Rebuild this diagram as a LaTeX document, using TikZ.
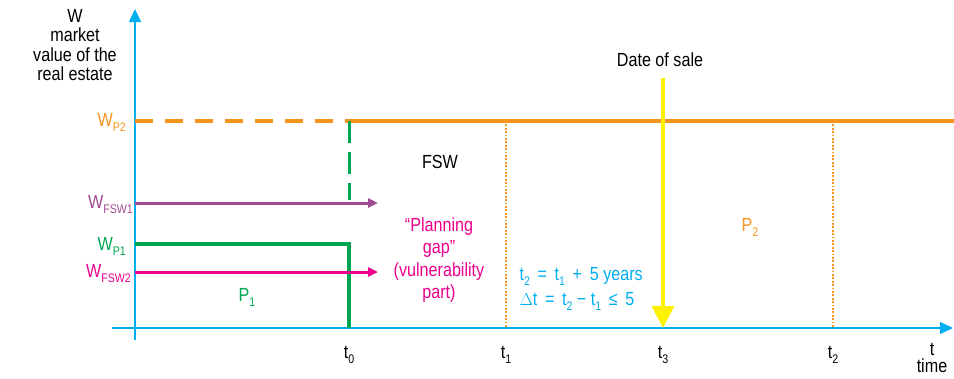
\documentclass[tikz,border=0pt]{standalone}
\usepackage{fontspec}
\setmainfont{Liberation Sans}[FakeStretch=0.85]
\usepackage{tikz}
\usetikzlibrary{arrows.meta,positioning}
\definecolor{axisblue}{RGB}{0,174,239}
\definecolor{pzorange}{RGB}{247,148,29}
\definecolor{pzgreen}{RGB}{0,166,81}
\definecolor{fswpurple}{RGB}{160,75,145}
\definecolor{gapmagenta}{RGB}{236,0,140}
\definecolor{saleyellow}{RGB}{255,242,0}
\newcommand{\sbs}[1]{\raisebox{-0.5ex}{\fontsize{12.5}{12.5}\selectfont #1}}

\begin{document}
\begin{tikzpicture}[x=1pt,y=-1pt,font=\fontsize{19}{20}\selectfont,
    axis/.style={draw=axisblue,line width=1.5pt,-{Triangle[length=13pt,width=12pt]}},
    level/.style={line width=3.5pt},
    flow/.style={line width=3pt,-{Triangle[length=10pt,width=9pt]}},
    guide/.style={draw=pzorange,line width=1.2pt,dash pattern=on 1.8pt off 1.6pt}]
            \useasboundingbox (0,0) rectangle (954,378);
            % axes
            \coordinate (ybot) at (135,340);
            \coordinate (ytop) at (135,9);
            \coordinate (xleft) at (112,328);
            \coordinate (xright) at (953,328);
            \draw [axis] (ybot) -- (ytop);
            \draw [axis] (xleft) -- (xright);
            \node (wlabel) at (75,45) [align=center,font=\fontsize{19}{19.5}\selectfont] {W\\market\\value of the\\real estate};
            \node (tlabel) at (932,358) [align=center,font=\fontsize{19}{17.5}\selectfont] {t\\time};
            % time marks
            \foreach \n/\x/\s in {t0/349/0,t1/506/1,t3/663/3,t2/833/2} {
                \coordinate (\n) at (\x,328);
                \node (\n lbl) at (\x,355) {t\sbs{\s}};
            }
            % value levels
            \coordinate (wpzs) at (135,121);
            \coordinate (wpzk) at (349,121);
            \coordinate (wpze) at (954,121);
            \node (wpz) at (126,122) [anchor=east,pzorange,inner sep=0pt] {W\sbs{P2}};
            \draw [level,pzorange,dash pattern=on 18pt off 12pt] (wpzs) -- (wpzk);
            \draw [level,pzorange] (wpzk) -- (wpze);
            \coordinate (fswa) at (349,200);
            \draw [level,pzgreen,line width=3pt,dash pattern=on 22pt off 9pt] (wpzk) -- (fswa);
            \node (fswtext) at (440,162) {FSW};
            \coordinate (wfa) at (135,203);
            \coordinate (wfb) at (378,203);
            \node (wfsw1) at (133,205) [anchor=east,fswpurple,inner sep=0pt] {W\sbs{FSW1}};
            \draw [flow,fswpurple] (wfa) -- (wfb);
            \coordinate (wpa) at (135,244);
            \coordinate (wpb) at (349,244);
            \node (wp1) at (126,246) [anchor=east,pzgreen,inner sep=0pt] {W\sbs{P1}};
            \draw [level,pzgreen] (wpa) -- (wpb) -- (t0);
            \coordinate (wga) at (135,272);
            \coordinate (wgb) at (378,272);
            \node (wfsw2) at (131,274) [anchor=east,gapmagenta,inner sep=0pt] {W\sbs{FSW2}};
            \draw [flow,gapmagenta] (wga) -- (wgb);
            \node (p1) at (247,297) [pzgreen] {P\sbs{1}};
            \node (gap) at (439,260) [align=center,gapmagenta,font=\fontsize{19}{22.5}\selectfont] {``Planning\\gap''\\(vulnerability\\part)};
            % dotted guides
            \coordinate (g1) at (506,121);
            \coordinate (g2) at (833,121);
            \draw [guide] (g1) -- (t1);
            \draw [guide] (g2) -- (t2);
            \node (p2) at (750,227) [pzorange] {P\sbs{2}};
            \node (rule) at (516,289) [anchor=west,align=left,axisblue,font=\fontsize{19}{25}\selectfont]
                {t\sbs{2} \,=\, t\sbs{1} \,+\, 5 years\\$\Delta$t \,=\, t\sbs{2} − t\sbs{1} \,≤\, 5};
            % sale
            \node (sale) at (660,60) {Date of sale};
            \coordinate (salea) at (663,78);
            \draw [saleyellow,line width=4pt,-{Triangle[length=22pt,width=22pt]}] (salea) -- (t3);
        \end{tikzpicture}
\end{document}
